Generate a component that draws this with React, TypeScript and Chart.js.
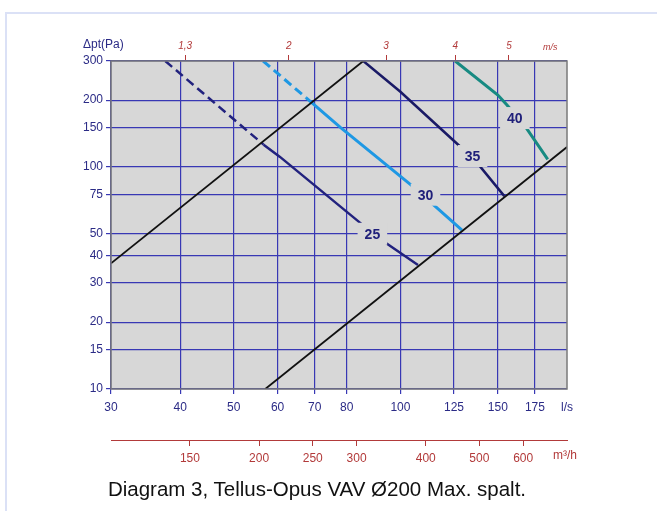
import React, { useEffect, useRef } from "react";
import { Chart, registerables } from "chart.js";

Chart.register(...registerables);

// ---- axis ticks ----
const FLOW_TICKS = [30, 40, 50, 60, 70, 80, 100, 125, 150, 175]; // l/s
const PRESSURE_TICKS = [10, 15, 20, 30, 40, 50, 75, 100, 150, 200, 300]; // Pa
const VELOCITY_TICKS = [1.3, 2, 3, 4, 5]; // m/s
const VELOCITY_LABELS = ["1,3", "2", "3", "4", "5"];
const M3H_TICKS = [150, 200, 250, 300, 400, 500, 600]; // m³/h
const DUCT_DIAMETER_M = 0.2;

// ---- series (flow l/s, pressure Pa) ----
const UPPER_LIMIT_Q = [30, 85.7];
const UPPER_LIMIT_P = [36.8, 300];
const LOWER_LIMIT_Q = [57, 200];
const LOWER_LIMIT_P = [10, 123];

const DB25_DASH_Q = [37.6, 56.6];
const DB25_DASH_P = [300, 126];
const DB25_Q = [56.6, 60.6, 84.6, 94.3, 107.6];
const DB25_P = [126, 111, 56, 45.3, 36.2];

const DB30_DASH_Q = [56.5, 67.5];
const DB30_DASH_P = [300, 205];
const DB30_Q = [67.5, 77.9, 105.4, 129.2];
const DB30_P = [205, 150.8, 81.5, 52];

const DB35_Q = [85.7, 100, 127.9, 139.4, 154.1];
const DB35_P = [300, 218, 124.3, 100.3, 73.9];

const DB40_Q = [125.6, 150, 155.8, 168.2, 184.6];
const DB40_P = [300, 210.9, 190, 151.7, 108.2];

const CURVE_LABELS = ["25", "30", "35", "40"];
const CURVE_LABEL_Q = [89, 111, 135, 161];
const CURVE_LABEL_P = [50, 75, 112, 166];

// ---- styles ----
const FONT = '"Liberation Sans", Arial, Helvetica, sans-serif';
const NAVY = "#2b2b86";
const GRID = "#3838b4";
const RED = "#b23a3a";
const PLOT_BG = "#d7d7d7";
const LABEL_NAVY = "#20207a";

const pts = (q: number[], p: number[]) => q.map((x, i) => ({ x, y: p[i] }));

const line = (
  q: number[],
  p: number[],
  color: string,
  width: number,
  dash: number[] = []
) => ({
  data: pts(q, p),
  borderColor: color,
  backgroundColor: color,
  borderWidth: width,
  borderDash: dash,
  showLine: true,
  pointRadius: 0,
  tension: 0,
  fill: false,
  borderCapStyle: "butt" as const,
});

const ductArea = Math.PI * (DUCT_DIAMETER_M / 2) ** 2;
const velocityToFlow = (v: number) => v * ductArea * 1000;
const m3hToFlow = (v: number) => v / 3.6;

const decorPlugin = {
  id: "decor",
  beforeDraw(chart: any) {
    const { ctx, chartArea: a } = chart;
    ctx.save();
    ctx.fillStyle = PLOT_BG;
    ctx.fillRect(a.left, a.top, a.right - a.left, a.bottom - a.top);
    ctx.restore();
  },
  afterDatasetsDraw(chart: any) {
    const { ctx } = chart;
    const xs = chart.scales.x;
    const ys = chart.scales.y;
    ctx.save();
    ctx.font = `bold 14px ${FONT}`;
    ctx.textAlign = "center";
    ctx.textBaseline = "middle";
    CURVE_LABELS.forEach((t, i) => {
      const px = xs.getPixelForValue(CURVE_LABEL_Q[i]);
      const py = ys.getPixelForValue(CURVE_LABEL_P[i]);
      const w = ctx.measureText(t).width + 14;
      const h = 22;
      ctx.fillStyle = PLOT_BG;
      ctx.fillRect(px - w / 2, py - h / 2, w, h);
      ctx.fillStyle = LABEL_NAVY;
      ctx.fillText(t, px, py + 1);
    });
    ctx.restore();
  },
  afterDraw(chart: any) {
    const { ctx, chartArea: a } = chart;
    ctx.save();
    ctx.strokeStyle = "#7a7a7a";
    ctx.lineWidth = 1.5;
    ctx.strokeRect(a.left, a.top, a.right - a.left, a.bottom - a.top);

    ctx.fillStyle = NAVY;
    ctx.font = `12px ${FONT}`;
    ctx.textAlign = "left";
    ctx.textBaseline = "middle";
    ctx.fillText("\u0394pt(Pa)", 83, 45);

    ctx.fillText("l/s", a.right - 6, 408);

    ctx.fillStyle = RED;
    ctx.fillText("m\u00b3/h", a.right - 14, 456);

    ctx.font = `italic 9px ${FONT}`;
    ctx.fillText("m/s", a.right - 24, 47);
    ctx.restore();
  },
};

export default function App() {
  const ref = useRef<HTMLCanvasElement>(null);

  useEffect(() => {
    const tickFont = { size: 12, family: FONT };
    const chart = new Chart(ref.current as HTMLCanvasElement, {
      type: "scatter",
      data: {
        datasets: [
          line(UPPER_LIMIT_Q, UPPER_LIMIT_P, "#111111", 1.8),
          line(LOWER_LIMIT_Q, LOWER_LIMIT_P, "#111111", 1.8),
          line(DB25_DASH_Q, DB25_DASH_P, "#22227e", 2.5, [9, 5]),
          line(DB25_Q, DB25_P, "#22227e", 2.5),
          line(DB30_DASH_Q, DB30_DASH_P, "#1e98e4", 3, [9, 5]),
          line(DB30_Q, DB30_P, "#1e98e4", 3),
          line(DB35_Q, DB35_P, "#1a1a66", 2.5),
          line(DB40_Q, DB40_P, "#178a82", 3),
        ] as any,
      },
      options: {
        animation: false,
        responsive: false,
        maintainAspectRatio: false,
        layout: { padding: { left: 0, top: 0, right: 90, bottom: 0 } },
        plugins: {
          legend: { display: false },
          tooltip: { enabled: false },
          title: { display: false },
        },
        scales: {
          x: {
            type: "logarithmic",
            position: "bottom",
            min: 30,
            max: 200,
            bounds: "data",
            weight: 0,
            afterBuildTicks: (s: any) => {
              s.ticks = FLOW_TICKS.map((v) => ({ value: v }));
            },
            afterFit: (s: any) => {
              s.height = 51;
            },
            grid: {
              color: GRID,
              lineWidth: 1.2,
              tickLength: 5,
              tickColor: GRID,
            },
            border: { display: false },
            ticks: {
              color: NAVY,
              font: tickFont,
              padding: 6,
              autoSkip: false,
              maxRotation: 0,
              callback: (v: any) => String(v),
            },
          },
          x3: {
            type: "logarithmic",
            position: "bottom",
            min: 30,
            max: 200,
            bounds: "data",
            weight: 1,
            afterBuildTicks: (s: any) => {
              s.ticks = M3H_TICKS.map((v) => ({ value: m3hToFlow(v) }));
            },
            afterFit: (s: any) => {
              s.height = 71;
            },
            grid: {
              drawOnChartArea: false,
              color: RED,
              tickLength: 6,
              tickColor: RED,
            },
            border: { display: true, color: RED, width: 1 },
            ticks: {
              color: RED,
              font: tickFont,
              padding: 5,
              autoSkip: false,
              maxRotation: 0,
              callback: (_v: any, i: number) => String(M3H_TICKS[i]),
            },
          },
          x2: {
            type: "logarithmic",
            position: "top",
            min: 30,
            max: 200,
            bounds: "data",
            afterBuildTicks: (s: any) => {
              s.ticks = VELOCITY_TICKS.map((v) => ({ value: velocityToFlow(v) }));
            },
            afterFit: (s: any) => {
              s.height = 61;
            },
            grid: {
              drawOnChartArea: false,
              color: RED,
              tickLength: 6,
              tickColor: RED,
            },
            border: { display: false },
            ticks: {
              color: RED,
              font: { size: 10, family: FONT, style: "italic" },
              padding: 3,
              autoSkip: false,
              maxRotation: 0,
              callback: (_v: any, i: number) => VELOCITY_LABELS[i],
            },
          },
          y: {
            type: "logarithmic",
            position: "left",
            min: 10,
            max: 300,
            bounds: "data",
            afterBuildTicks: (s: any) => {
              s.ticks = PRESSURE_TICKS.map((v) => ({ value: v }));
            },
            afterFit: (s: any) => {
              s.width = 111;
            },
            grid: {
              color: GRID,
              lineWidth: 1.2,
              tickLength: 5,
              tickColor: GRID,
            },
            border: { display: false },
            ticks: {
              color: NAVY,
              font: tickFont,
              padding: 3,
              autoSkip: false,
              callback: (v: any) => String(v),
            },
          },
        },
      } as any,
      plugins: [decorPlugin],
    });
    return () => chart.destroy();
  }, []);

  return (
    <div
      style={{
        position: "fixed",
        left: 0,
        top: 0,
        width: 657,
        height: 511,
        background: "#ffffff",
        overflow: "hidden",
      }}
    >
      <div
        style={{
          position: "absolute",
          left: 5,
          top: 12,
          width: 700,
          height: 600,
          borderTop: "2px solid #dbe1f6",
          borderLeft: "2px solid #dbe1f6",
        }}
      />
      <canvas
        ref={ref}
        width={657}
        height={511}
        style={{ position: "absolute", left: 0, top: 0 }}
      />
      <div
        style={{
          position: "absolute",
          left: 0,
          width: 634,
          top: 477,
          textAlign: "center",
          font: `20.5px ${FONT}`,
          color: "#111111",
          whiteSpace: "nowrap",
        }}
      >
        Diagram 3, Tellus-Opus VAV Ø200 Max. spalt.
      </div>
    </div>
  );
}
